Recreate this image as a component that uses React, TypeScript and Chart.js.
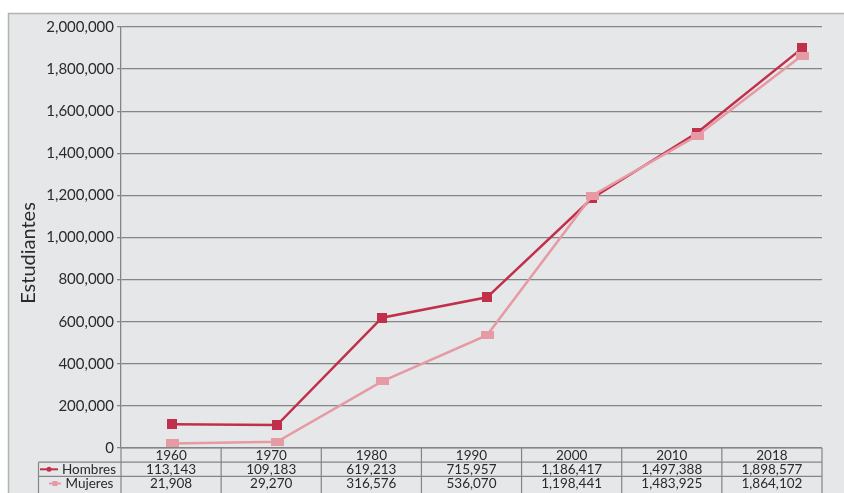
import React, { useEffect, useRef } from "react";
import { Chart, registerables } from "chart.js";

Chart.register(...registerables);

const years = ["1960", "1970", "1980", "1990", "2000", "2010", "2018"];
const hombres = [113143, 109183, 619213, 715957, 1186417, 1497388, 1898577];
const mujeres = [21908, 29270, 316576, 536070, 1198441, 1483925, 1864102];
const seriesNames = ["Hombres", "Mujeres"];
const axisTitle = "Estudiantes";
const yMin = 0;
const yMax = 2000000;
const yStep = 200000;

const RED = "#c1304b";
const PINK = "#e59aa4";
const TEXT = "#2a2a2a";
const GRID = "#858585";
const FONT = "Lato, 'Open Sans', sans-serif";

const fmt = (v: number) => v.toLocaleString("en-US");

function makeRect(w: number, h: number, color: string) {
  const c = document.createElement("canvas");
  c.width = w;
  c.height = h;
  const g = c.getContext("2d")!;
  g.fillStyle = color;
  g.fillRect(0, 0, w, h);
  return c;
}

export default function App() {
  const ref = useRef<HTMLCanvasElement | null>(null);

  useEffect(() => {
    let chart: Chart | null = null;
    let cancelled = false;

    const build = () => {
      if (cancelled || !ref.current) return;
      Chart.defaults.font.family = FONT;

      const bgPlugin = {
        id: "bgPanel",
        beforeDraw(c: any) {
          const ctx = c.ctx;
          ctx.save();
          ctx.fillStyle = "#ffffff";
          ctx.fillRect(0, 0, c.width, c.height);
          ctx.fillStyle = "#e6e7e9";
          ctx.fillRect(8, 13, c.width - 8, c.height - 13);
          ctx.strokeStyle = "#b3b3b3";
          ctx.lineWidth = 1.5;
          ctx.beginPath();
          ctx.moveTo(8.5, c.height);
          ctx.lineTo(8.5, 13.5);
          ctx.lineTo(c.width, 13.5);
          ctx.stroke();
          ctx.restore();
        },
      };

      const tablePlugin = {
        id: "dataTable",
        afterDraw(c: any) {
          const ctx = c.ctx;
          const area = c.chartArea;
          const left = area.left;
          const right = area.right;
          const colW = (right - left) / years.length;
          const r0 = area.bottom;
          const rowH = 14.2;
          const legendLeft = 38.5;
          ctx.save();
          ctx.strokeStyle = GRID;
          ctx.lineWidth = 1.2;
          ctx.beginPath();
          ctx.moveTo(left, r0);
          ctx.lineTo(right, r0);
          ctx.moveTo(legendLeft, r0 + rowH);
          ctx.lineTo(right, r0 + rowH);
          ctx.moveTo(legendLeft, r0 + 2 * rowH);
          ctx.lineTo(right, r0 + 2 * rowH);
          for (let i = 0; i <= years.length; i++) {
            const x = left + i * colW;
            ctx.moveTo(x, r0);
            ctx.lineTo(x, c.height);
          }
          ctx.moveTo(legendLeft, r0 + rowH);
          ctx.lineTo(legendLeft, c.height);
          ctx.stroke();

          ctx.fillStyle = TEXT;
          ctx.font = `13.5px ${FONT}`;
          ctx.textAlign = "center";
          ctx.textBaseline = "middle";
          const rows = [years, hombres.map(fmt), mujeres.map(fmt)];
          rows.forEach((row, ri) => {
            const yc = r0 + ri * rowH + rowH / 2 + 0.5;
            row.forEach((t, ci) => {
              ctx.fillText(t, left + ci * colW + colW / 2, yc);
            });
          });

          const yH = r0 + rowH * 1.5;
          const yM = r0 + rowH * 2.5;
          ctx.fillText(seriesNames[0], 89, yH + 0.5);
          ctx.fillText(seriesNames[1], 89.5, yM + 0.5);
          ctx.lineWidth = 2;
          ctx.strokeStyle = RED;
          ctx.beginPath();
          ctx.moveTo(40, yH);
          ctx.lineTo(58, yH);
          ctx.stroke();
          ctx.fillStyle = RED;
          ctx.beginPath();
          ctx.arc(49, yH, 2.5, 0, Math.PI * 2);
          ctx.fill();
          ctx.strokeStyle = PINK;
          ctx.beginPath();
          ctx.moveTo(49, yM);
          ctx.lineTo(61, yM);
          ctx.stroke();
          ctx.fillStyle = PINK;
          ctx.fillRect(52.5, yM - 2.5, 5, 5);

          ctx.fillStyle = TEXT;
          ctx.font = `20px ${FONT}`;
          ctx.translate(29, 253);
          ctx.rotate(-Math.PI / 2);
          ctx.textAlign = "center";
          ctx.textBaseline = "middle";
          ctx.fillText(axisTitle, 0, 0);
          ctx.restore();
        },
      };

      chart = new Chart(ref.current, {
        type: "line",
        data: {
          datasets: [
            {
              label: seriesNames[0],
              data: hombres.map((v, i) => ({ x: i, y: v })),
              borderColor: RED,
              backgroundColor: RED,
              borderWidth: 2.5,
              pointStyle: makeRect(10, 10, RED) as any,
              pointRadius: 5,
              order: 1,
            },
            {
              label: seriesNames[1],
              data: mujeres.map((v, i) => ({ x: i, y: v })),
              borderColor: PINK,
              backgroundColor: PINK,
              borderWidth: 2.5,
              pointStyle: makeRect(13, 8, PINK) as any,
              pointRadius: 5,
              order: 0,
            },
          ],
        },
        options: {
          animation: false,
          responsive: false,
          devicePixelRatio: 1,
          layout: { padding: { left: 0, right: 22, top: 27, bottom: 45 } },
          plugins: {
            legend: { display: false },
            tooltip: { enabled: false },
            title: { display: false },
          },
          scales: {
            x: {
              type: "linear",
              display: false,
              min: -0.4857,
              max: 6.19,
            },
            y: {
              type: "linear",
              min: yMin,
              max: yMax,
              ticks: {
                stepSize: yStep,
                color: TEXT,
                font: { size: 15, family: FONT },
                padding: 3,
                callback: (v: any) => fmt(Number(v)),
              },
              grid: {
                color: GRID,
                lineWidth: 1.3,
                tickLength: 4,
                drawTicks: true,
              },
              border: { display: true, color: GRID, width: 1.3 },
              afterFit: (axis: any) => {
                axis.width = 121;
              },
            },
          },
        },
        plugins: [bgPlugin, tablePlugin],
      });
    };

    const fontsReady = (document as any).fonts
      ? Promise.all([
          (document as any).fonts.load(`15px Lato`),
          (document as any).fonts.load(`20px Lato`),
        ]).catch(() => null)
      : Promise.resolve(null);
    fontsReady.then(build);

    return () => {
      cancelled = true;
      if (chart) chart.destroy();
    };
  }, []);

  return (
    <div style={{ position: "fixed", left: 0, top: 0, width: 844, height: 493 }}>
      <canvas ref={ref} width={844} height={493} style={{ display: "block" }} />
    </div>
  );
}
